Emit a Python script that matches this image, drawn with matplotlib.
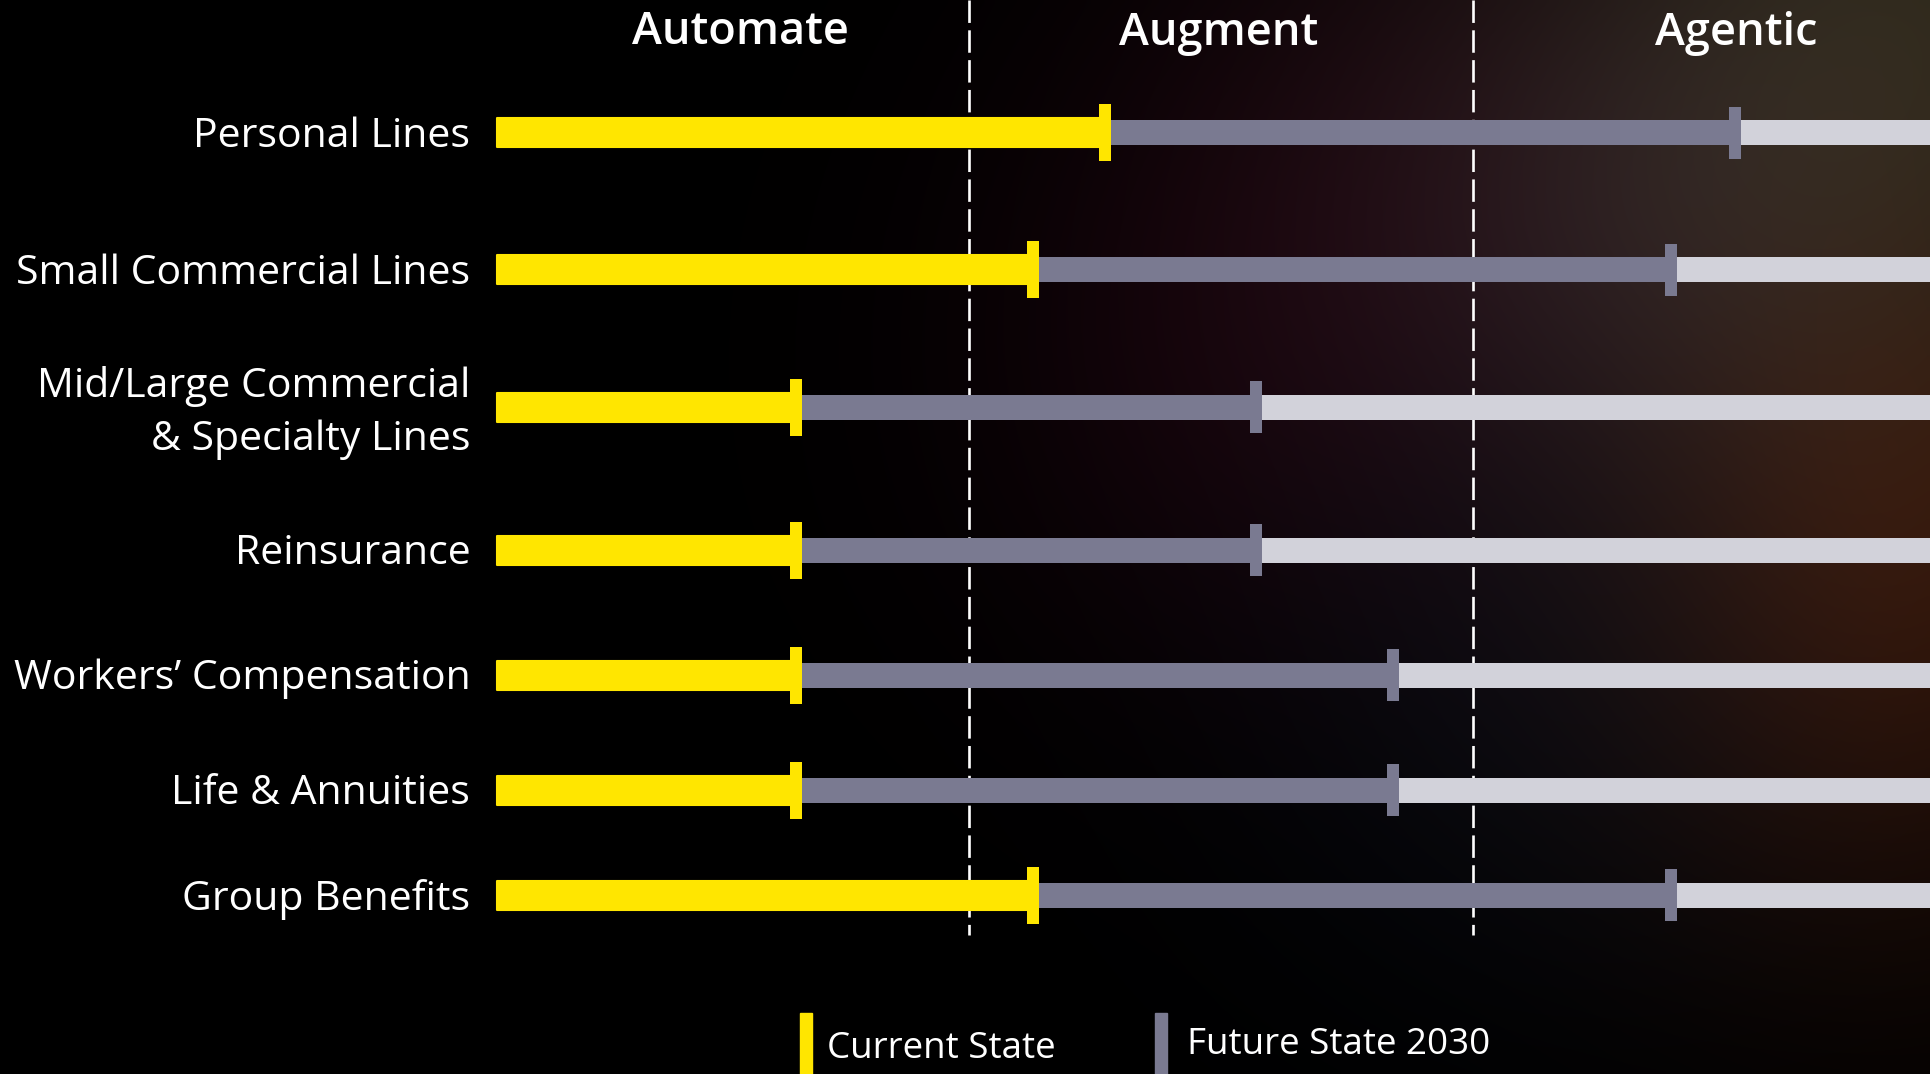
import numpy as np
import matplotlib
matplotlib.use("Agg")
import matplotlib.pyplot as plt
from matplotlib import transforms

# ---------------- data ----------------
categories = ["Personal Lines", "Small Commercial Lines",
              "Mid/Large Commercial\n& Specialty Lines", "Reinsurance",
              "Workers’ Compensation", "Life & Annuities", "Group Benefits"]
current_state = [1.27, 1.127, 0.657, 0.657, 0.657, 0.657, 1.127]
future_2030 = [2.52, 2.393, 1.569, 1.569, 1.841, 1.841, 2.393]
stages = ["Automate", "Augment", "Agentic"]
stage_boundaries = [1.0, 2.0]
baseline = 0.064
legend_labels = ["Current State", "Future State 2030"]

# ---------------- layout / style ----------------
W, H = 1930, 1074
row_y = [132.5, 269.5, 407, 550, 675, 790, 895]
stage_label_x = [0.546, 1.496, 2.522]
XMIN, XMAX = -0.9226, 2.9067
YELLOW = "#FFE600"
GRAY = "#7A7A91"
LIGHT = "#D2D2DA"
FONT = ["Open Sans", "DejaVu Sans"]

fig = plt.figure(figsize=(W / 100, H / 100), dpi=100)
fig.patch.set_facecolor("black")
ax = fig.add_axes([0, 0, 1, 1])
ax.set_xlim(XMIN, XMAX)
ax.set_ylim(H, 0)
ax.axis("off")

# subtle background glow on right side (decorative)
gx = np.linspace(0, W, 386)
gy = np.linspace(0, H, 215)
X, Y = np.meshgrid(gx, gy)
img = np.zeros((len(gy), len(gx), 3))
blobs = [
    ((1930, 0), 260, (0.17, 0.15, 0.10)),
    ((1930, 500), 200, (0.15, 0.06, 0.02)),
    ((1400, 120), 220, (0.06, 0.015, 0.03)),
    ((1250, 380), 220, (0.06, 0.01, 0.03)),
    ((1650, 230), 200, (0.06, 0.06, 0.07)),
    ((1550, 700), 220, (0.02, 0.03, 0.05)),
    ((1900, 780), 200, (0.07, 0.03, 0.015)),
]
for (cx, cy), r, col in blobs:
    g = np.exp(-(((X - cx) ** 2 + (Y - cy) ** 2) / (2 * r ** 2)))
    for k in range(3):
        img[..., k] += col[k] * g
img = np.clip(img, 0, 1)
ax.imshow(img, extent=[XMIN, XMAX, H, 0], aspect="auto", zorder=0,
          interpolation="bilinear")

# dashed stage boundaries
ax.vlines(stage_boundaries, 0, 935, colors="white", linewidth=1.9,
          linestyles=[(0, (8.5, 2.8))], zorder=1)

# stage headers
for lab, x in zip(stages, stage_label_x):
    ax.text(x, 33, lab, color="white", fontsize=32.5, fontweight="semibold",
            family=FONT, ha="center", va="center", zorder=5)

px = 1.0 / 504  # one pixel in x data units
for y, cur, fut in zip(row_y, current_state, future_2030):
    ax.barh(y, XMAX - fut, left=fut, height=25, color=LIGHT, zorder=2)
    ax.barh(y, fut - cur, left=cur, height=25, color=GRAY, zorder=3)
    ax.barh(y, cur - baseline, left=baseline, height=29, color=YELLOW,
            edgecolor=YELLOW, linewidth=1.5, joinstyle="round", zorder=4)
    ax.barh(y, 12 * px, left=cur - 6 * px, height=57, color=YELLOW, zorder=5)
    ax.barh(y, 12 * px, left=fut - 6 * px, height=52, color=GRAY, zorder=5)

# category labels
lab_tr = transforms.offset_copy(ax.transData, fig, x=-27, y=0, units="dots")
for y, lab in zip(row_y, categories):
    dy = 6 if "\n" in lab else 4
    ax.text(baseline, y + dy, lab, transform=lab_tr, color="white", fontsize=29.5,
            family=FONT, ha="right", va="center", linespacing=1.38, zorder=5)

# legend
fig.patches.append(plt.Rectangle((800 / W, 0), 12 / W, (H - 1013) / H,
                                 transform=fig.transFigure, color=YELLOW,
                                 zorder=6))
fig.patches.append(plt.Rectangle((1155 / W, 0), 12 / W, (H - 1013) / H,
                                 transform=fig.transFigure, color=GRAY,
                                 zorder=6))
fig.text(827 / W, 1 - 1058 / H, legend_labels[0], color="white", fontsize=26.5,
         family=FONT, ha="left", va="baseline")
fig.text(1187 / W, 1 - 1054 / H, legend_labels[1], color="white", fontsize=26.5,
         family=FONT, ha="left", va="baseline")

fig.savefig("out.png", dpi=100, facecolor="black")
